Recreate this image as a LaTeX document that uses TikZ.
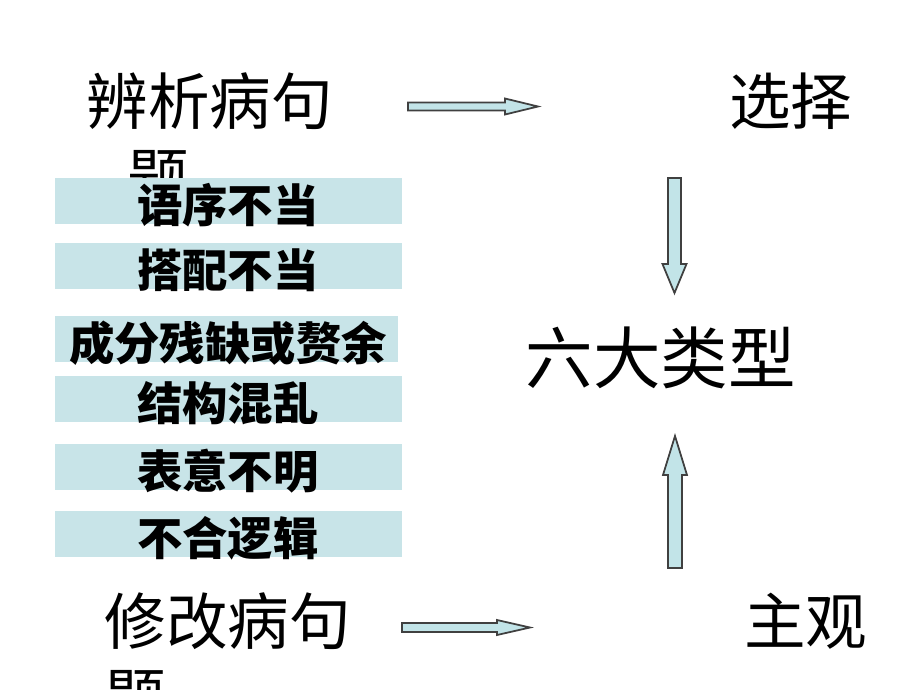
\documentclass[tikz,border=0pt]{standalone}
\usepackage{fontspec}
\newfontfamily\cjk{Noto Sans CJK SC}
\usetikzlibrary{calc}
\definecolor{boxblue}{RGB}{200,228,232}
\definecolor{arrowblue}{RGB}{194,228,232}

\begin{document}
\begin{tikzpicture}[x=0.01cm,y=-0.01cm,
  headtext/.style={font=\cjk\fontsize{17.5}{21.3}\selectfont,inner sep=0,align=left},
  bigtext/.style={font=\cjk\fontsize{19.2}{23}\selectfont,inner sep=0},
  itemtext/.style={font=\cjk\bfseries\fontsize{12.9}{15}\selectfont,inner sep=0},
  blockarrow/.style={draw=black!75,fill=arrowblue,line width=0.5pt,line join=miter}]
\useasboundingbox (0,0) rectangle (920,690);

% texts
\node[headtext,anchor=north west] (bianxi) at (86,72) {辨析病句\\\hspace*{0.67em}题};
\node[headtext,anchor=north west] (xiugai) at (104,592) {修改病句\\题};
\node[headtext] (xuanze) at (791,101) {选择};
\node[headtext] (zhuguan) at (806,621) {主观};
\node[bigtext] (liuda) at (661,358) {六大类型};

% the six bars
\foreach \y/\r/\t [count=\i] in {178/402/语序不当,243/402/搭配不当,316/398/成分残缺或赘余,376/402/结构混乱,444/402/表意不明,511/402/不合逻辑}{
  \fill[boxblue] (55,\y) rectangle (\r,\y+46);
  \node[itemtext] (item\i) at (228,\y+27) {\t};
}

% horizontal block arrows
\foreach \n/\sx/\ex/\cy/\sh/\hh in {top/408/538/106.5/4/8,bot/402/530/627.5/4.5/7.5}{
  \coordinate (\n s) at (\sx,\cy); \coordinate (\n e) at (\ex,\cy);
  \draw[blockarrow] ($(\n s)+(0,-\sh)$) -- ($(\n e)+(-33,-\sh)$) -- ($(\n e)+(-33,-\hh)$) -- (\n e)
    -- ($(\n e)+(-33,\hh)$) -- ($(\n e)+(-33,\sh)$) -- ($(\n s)+(0,\sh)$) -- cycle;
}

% vertical block arrows
\coordinate (downs) at (674.5,178); \coordinate (downe) at (674.5,293);
\draw[blockarrow] ($(downs)+(-6.5,0)$) -- ($(downe)+(-6.5,-29)$) -- ($(downe)+(-12,-29)$) -- (downe)
  -- ($(downe)+(12,-29)$) -- ($(downe)+(6.5,-29)$) -- ($(downs)+(6.5,0)$) -- cycle;
\coordinate (ups) at (675,568); \coordinate (upe) at (675,436);
\draw[blockarrow] ($(ups)+(-7,0)$) -- ($(upe)+(-7,39)$) -- ($(upe)+(-12,39)$) -- (upe)
  -- ($(upe)+(12,39)$) -- ($(upe)+(7,39)$) -- ($(ups)+(7,0)$) -- cycle;
\end{tikzpicture}
\end{document}
